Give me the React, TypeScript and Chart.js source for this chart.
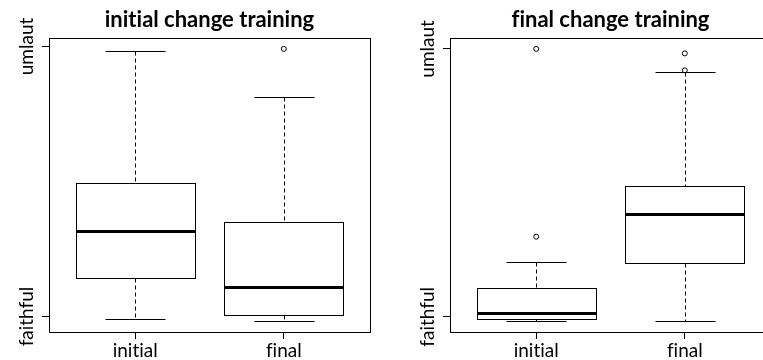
import React, { useEffect, useRef } from "react";
import { Chart, registerables } from "chart.js";

Chart.register(...registerables);

// ---- data ----
const categories = ["initial", "final"];
const categoryPositions = [1, 2];
const yTickValues = [0, 1];
const yTickLabels = ["faithful", "umlaut"];

// panel 1: initial change training
const titleInitialTraining = "initial change training";
const initLowerWhisker = [-0.009, -0.017];
const initQ1 = [0.142, 0.006];
const initMedian = [0.315, 0.109];
const initQ3 = [0.494, 0.349];
const initUpperWhisker = [0.985, 0.811];
const initOutliers = [[], [0.991]];

// panel 2: final change training
const titleFinalTraining = "final change training";
const finLowerWhisker = [-0.016, -0.014];
const finQ1 = [-0.0075, 0.201];
const finMedian = [0.016, 0.382];
const finQ3 = [0.108, 0.487];
const finUpperWhisker = [0.205, 0.914];
const finOutliers = [[0.299, 1.0], [0.92, 0.983]];

const FONT = "Lato, 'Open Sans', sans-serif";

type Stats = {
  lower: number[];
  q1: number[];
  median: number[];
  q3: number[];
  upper: number[];
  outliers: number[][];
};

const noLigaturePlugin = {
  id: "noLigatures",
  beforeDraw(chart: any) {
    try {
      (chart.ctx as any).textRendering = "optimizeSpeed";
    } catch (e) {
      /* ignore */
    }
  },
};

function makeBoxPlugin(st: Stats) {
  return {
    id: "rBoxplot",
    beforeDatasetsDraw(chart: any) {
      const { ctx, chartArea, scales } = chart;
      const x = scales.x;
      const y = scales.y;
      const px = (v: number) => Math.round(v) + 0.5;
      ctx.save();
      ctx.strokeStyle = "#000";
      ctx.lineWidth = 1;
      // frame (R box())
      ctx.strokeRect(
        px(chartArea.left),
        px(chartArea.top),
        Math.round(chartArea.right) - Math.round(chartArea.left),
        Math.round(chartArea.bottom) - Math.round(chartArea.top)
      );
      const unit = x.getPixelForValue(2) - x.getPixelForValue(1);
      categoryPositions.forEach((pos, i) => {
        const cx = x.getPixelForValue(pos);
        const bw = unit * 0.4;
        const cw = unit * 0.2;
        const yLo = y.getPixelForValue(st.lower[i]);
        const yQ1 = y.getPixelForValue(st.q1[i]);
        const yMed = y.getPixelForValue(st.median[i]);
        const yQ3 = y.getPixelForValue(st.q3[i]);
        const yHi = y.getPixelForValue(st.upper[i]);
        // whiskers (dashed)
        ctx.lineWidth = 1;
        ctx.setLineDash([4, 3]);
        ctx.beginPath();
        ctx.moveTo(px(cx), px(yHi));
        ctx.lineTo(px(cx), px(yQ3));
        ctx.moveTo(px(cx), px(yQ1));
        ctx.lineTo(px(cx), px(yLo));
        ctx.stroke();
        ctx.setLineDash([]);
        // caps
        ctx.beginPath();
        ctx.moveTo(px(cx - cw), px(yHi));
        ctx.lineTo(px(cx + cw), px(yHi));
        ctx.moveTo(px(cx - cw), px(yLo));
        ctx.lineTo(px(cx + cw), px(yLo));
        ctx.stroke();
        // box
        ctx.fillStyle = "#fff";
        ctx.fillRect(px(cx - bw), px(yQ3), Math.round(2 * bw), Math.round(yQ1) - Math.round(yQ3));
        ctx.strokeRect(px(cx - bw), px(yQ3), Math.round(2 * bw), Math.round(yQ1) - Math.round(yQ3));
        // median
        ctx.lineWidth = 3;
        ctx.beginPath();
        ctx.moveTo(Math.round(cx - bw), Math.round(yMed) + 0.5);
        ctx.lineTo(Math.round(cx + bw) + 1, Math.round(yMed) + 0.5);
        ctx.stroke();
      });
      ctx.restore();
    },
  };
}

function BoxPanel({ title, stats, left }: { title: string; stats: Stats; left: number }) {
  const ref = useRef<HTMLCanvasElement | null>(null);
  useEffect(() => {
    if (!ref.current) return;
    const all = [
      ...stats.lower,
      ...stats.upper,
      ...stats.q1,
      ...stats.q3,
      ...stats.outliers.flat(),
    ];
    const dMin = Math.min(...all);
    const dMax = Math.max(...all);
    const pad = (dMax - dMin) * 0.04;
    const outlierPoints = stats.outliers.flatMap((arr, i) =>
      arr.map((v) => ({ x: categoryPositions[i], y: v }))
    );
    const chart = new Chart(ref.current, {
      type: "scatter",
      data: {
        datasets: [
          {
            data: outlierPoints,
            pointStyle: "circle",
            pointRadius: 2.5,
            pointBorderWidth: 1,
            pointBorderColor: "#000",
            pointBackgroundColor: "rgba(255,255,255,0)",
          },
        ],
      },
      plugins: [noLigaturePlugin, makeBoxPlugin(stats)],
      options: {
        responsive: false,
        animation: false,
        events: [],
        layout: { padding: { left: 0, right: 31, top: 0, bottom: 0 } },
        plugins: {
          legend: { display: false },
          tooltip: { enabled: false },
          title: {
            display: true,
            text: title,
            fullSize: false,
            color: "#000",
            font: { family: FONT, size: 22, weight: "bold", lineHeight: 1.2 },
            padding: { top: 6.3, bottom: 5.3 },
          },
        },
        scales: {
          x: {
            type: "linear",
            min: 0.42,
            max: 2.58,
            afterBuildTicks: (s: any) => {
              s.ticks = categoryPositions.map((v) => ({ value: v }));
            },
            afterFit: (s: any) => {
              s.height = 28;
            },
            ticks: {
              callback: (v: any) => categories[categoryPositions.indexOf(Number(v))] ?? "",
              color: "#000",
              font: { family: FONT, size: 19 },
              padding: 0,
              maxRotation: 0,
              minRotation: 0,
              autoSkip: false,
            },
            grid: {
              drawOnChartArea: false,
              drawTicks: true,
              tickLength: 7,
              tickColor: "#000",
              color: "#000",
            },
            border: { display: false },
          },
          y: {
            type: "linear",
            min: dMin - pad,
            max: dMax + pad,
            afterBuildTicks: (s: any) => {
              s.ticks = yTickValues.map((v) => ({ value: v }));
            },
            afterFit: (s: any) => {
              s.width = 49;
            },
            ticks: {
              callback: (v: any) => yTickLabels[yTickValues.indexOf(Number(v))] ?? "",
              color: "#000",
              font: { family: FONT, size: 19 },
              minRotation: 90,
              maxRotation: 90,
              crossAlign: "center",
              padding: -15,
              autoSkip: false,
            },
            grid: {
              drawOnChartArea: false,
              drawTicks: true,
              tickLength: 7,
              tickColor: "#000",
              color: "#000",
            },
            border: { display: false },
          },
        },
      } as any,
    });
    return () => chart.destroy();
  }, []);
  return (
    <canvas
      ref={ref}
      width={401}
      height={360}
      style={{ position: "absolute", left, top: 0, width: 401, height: 360 }}
    />
  );
}

export default function App() {
  const s1: Stats = {
    lower: initLowerWhisker,
    q1: initQ1,
    median: initMedian,
    q3: initQ3,
    upper: initUpperWhisker,
    outliers: initOutliers,
  };
  const s2: Stats = {
    lower: finLowerWhisker,
    q1: finQ1,
    median: finMedian,
    q3: finQ3,
    upper: finUpperWhisker,
    outliers: finOutliers,
  };
  return (
    <div
      style={{
        position: "fixed",
        left: 0,
        top: 0,
        width: 763,
        height: 360,
        overflow: "hidden",
        background: "#fff",
      }}
    >
      <BoxPanel title={titleInitialTraining} stats={s1} left={0} />
      <BoxPanel title={titleFinalTraining} stats={s2} left={401} />
    </div>
  );
}
